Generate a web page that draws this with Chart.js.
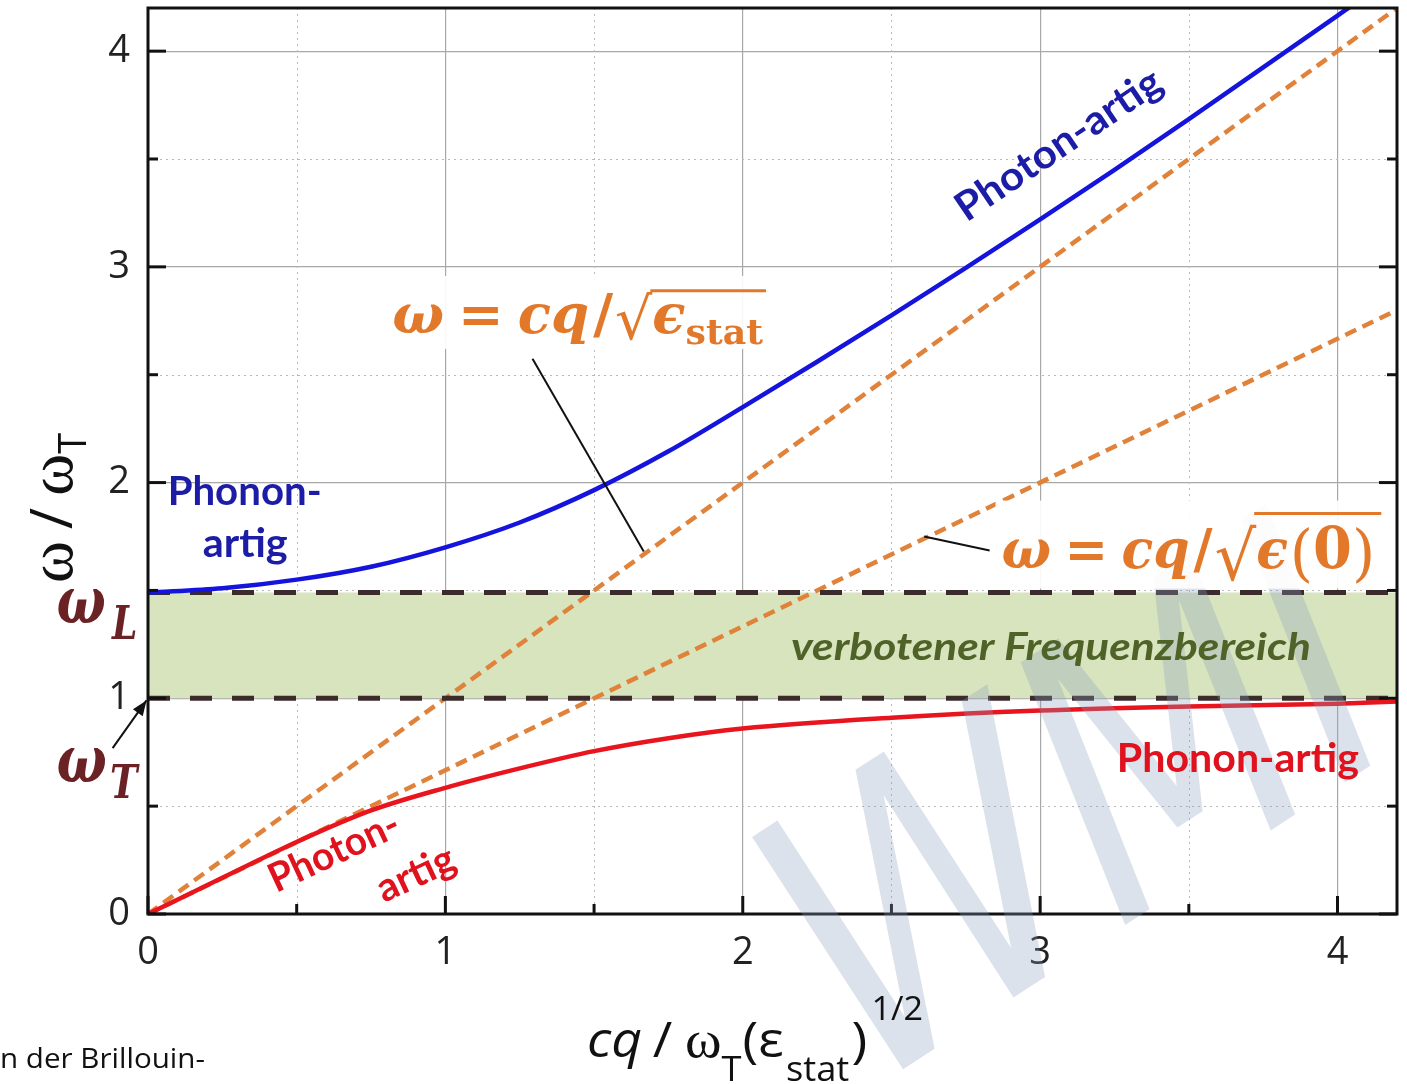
<!DOCTYPE html>
<html>
<head>
<meta charset="utf-8">
<title>Polariton-Dispersion</title>
<script src="https://cdn.jsdelivr.net/npm/chart.js@4.4.1/dist/chart.umd.min.js"></script>
<style>
  html, body { margin: 0; padding: 0; background: #fff; }
  #wrap { width: 1407px; height: 1084px; position: relative; }
</style>
</head>
<body>
<div id="wrap"><canvas id="dispersion"></canvas></div>
<script>
// values (x: cq/omega_T sqrt(eps_stat), y: omega/omega_T)
const qUpper = [0, 0.25, 0.5, 0.75, 1.0, 1.25, 1.5, 1.75, 2.0, 2.25, 2.5, 2.75, 3.0, 3.25, 3.5, 3.75, 4.0, 4.05];
const wUpper = [1.49, 1.51, 1.55, 1.61, 1.70, 1.815, 1.965, 2.145, 2.35, 2.56, 2.775, 2.995, 3.22, 3.45, 3.685, 3.925, 4.165, 4.213];
const qLower = [0, 0.25, 0.5, 0.75, 1.0, 1.25, 1.5, 1.75, 2.0, 2.5, 3.0, 3.5, 4.0, 4.2];
const wLower = [0, 0.168, 0.334, 0.48, 0.585, 0.675, 0.755, 0.815, 0.86, 0.91, 0.943, 0.962, 0.975, 0.985];
const qLines = [0, 4.2];
const wSteep = [0, 4.2];
const wFlat = [0, 2.8];
const wL = [1.49, 1.49];
const wT = [1.0, 1.0];
const majorTicks = [0, 1, 2, 3, 4];
const minorTicks = [0.5, 1.5, 2.5, 3.5];

const pts = (xs, ys) => xs.map((x, i) => ({ x: x, y: ys[i] }));

/* ---------- small text helpers ---------- */
function fitRun(ctx, pieces, x, y, width) {
    let total = 0;
    pieces.forEach(p => {
        ctx.font = p.font;
        p.w = ctx.measureText(p.t).width;
        total += p.w + (p.gap || 0);
    });
    const sx = width ? width / total : 1;
    ctx.save();
    ctx.translate(x, y);
    ctx.scale(sx, 1);
    let cx = 0;
    pieces.forEach(p => {
        ctx.font = p.font;
        ctx.fillText(p.t, cx, p.dy || 0);
        p.x0 = x + cx * sx;
        cx += p.w;
        p.x1 = x + cx * sx;
        cx += p.gap || 0;
    });
    ctx.restore();
    return pieces;
}

function label(ctx, text, font, color, x, y, width, angle) {
    ctx.save();
    ctx.translate(x, y);
    if (angle) ctx.rotate(angle * Math.PI / 180);
    ctx.font = font;
    ctx.fillStyle = color;
    ctx.textAlign = "left";
    ctx.textBaseline = "alphabetic";
    const w = ctx.measureText(text).width;
    if (width) ctx.scale(width / w, 1);
    ctx.fillText(text, 0, 0);
    ctx.restore();
}

function line(ctx, x1, y1, x2, y2, w, color) {
    ctx.save();
    ctx.strokeStyle = color;
    ctx.lineWidth = w;
    ctx.beginPath();
    ctx.moveTo(x1, y1);
    ctx.lineTo(x2, y2);
    ctx.stroke();
    ctx.restore();
}

/* ---------- decorations ---------- */
const decor = {
    id: "decor",
    beforeDatasetsDraw(chart) {
        const { ctx, chartArea: a, scales } = chart;
        // dotted minor grid
        ctx.save();
        ctx.strokeStyle = "#b9b9b9";
        ctx.lineWidth = 1;
        ctx.setLineDash([2, 4]);
        minorTicks.forEach(v => {
            const x = Math.round(scales.x.getPixelForValue(v)) + 0.5;
            const y = Math.round(scales.y.getPixelForValue(v)) + 0.5;
            ctx.beginPath(); ctx.moveTo(x, a.top); ctx.lineTo(x, a.bottom); ctx.stroke();
            ctx.beginPath(); ctx.moveTo(a.left, y); ctx.lineTo(a.right, y); ctx.stroke();
        });
        ctx.restore();
    },
    afterDatasetsDraw(chart) {
        const { ctx, chartArea: a, scales } = chart;
        const X = v => scales.x.getPixelForValue(v);
        const Y = v => scales.y.getPixelForValue(v);

        // frame and inward ticks
        ctx.save();
        ctx.strokeStyle = "#111";
        ctx.lineWidth = 3;
        ctx.strokeRect(a.left, a.top, a.right - a.left, a.bottom - a.top);
        majorTicks.concat(minorTicks).forEach(v => {
            const len = majorTicks.includes(v) ? 18 : 10;
            const x = X(v), y = Y(v);
            ctx.beginPath(); ctx.moveTo(x, a.bottom); ctx.lineTo(x, a.bottom - len); ctx.stroke();
            ctx.beginPath(); ctx.moveTo(a.left, y); ctx.lineTo(a.left + len, y); ctx.stroke();
            ctx.beginPath(); ctx.moveTo(a.right, y); ctx.lineTo(a.right - len, y); ctx.stroke();
        });
        ctx.restore();

        // watermark (slanted, rotated logo letters)
        ctx.save();
        ctx.translate(848, 1105);
        ctx.rotate(-33 * Math.PI / 180);
        ctx.transform(1, 0, -0.2, 1, 0, 0);
        ctx.scale(0.8, 1);
        ctx.font = '380px "DejaVu Sans"';
        ctx.fillStyle = "rgba(140,158,190,0.3)";
        ctx.fillText("WMI", 0, 0);
        ctx.restore();

        // formulas
        const orange = "#e2782a";
        const serifBI = s => 'italic bold ' + s + 'px "DejaVu Serif"';
        const serifB = s => 'bold ' + s + 'px "DejaVu Serif"';

        // formula 1
        let bx = X(0.821), by = Y(2.694), bw = X(2.068) - bx;
        ctx.fillStyle = "rgba(255,255,255,0.92)";
        ctx.fillRect(bx - 6, by - 57, bw + 12, 73);
        ctx.fillStyle = orange;
        let f = fitRun(ctx, [
            { t: "ω", font: serifBI(54), gap: 14 },
            { t: "=", font: serifB(54), gap: 14 },
            { t: "cq", font: serifBI(54), gap: 4 },
            { t: "/", font: serifB(54), gap: 2 },
            { t: "√", font: '58px "DejaVu Serif"', dy: 6 },
            { t: "ϵ", font: serifBI(54) },
            { t: "stat", font: serifB(36), dy: 11 }
        ], bx, by, bw);
        line(ctx, f[4].x1 - 2, by - 42, f[6].x1 + 3, by - 42, 3, orange);

        // formula 2
        bx = X(2.870); by = Y(1.606); bw = X(4.127) - bx;
        ctx.fillStyle = "rgba(255,255,255,0.92)";
        ctx.fillRect(bx - 6, by - 67, bw + 14, 88);
        ctx.fillStyle = orange;
        f = fitRun(ctx, [
            { t: "ω", font: serifBI(54), gap: 14 },
            { t: "=", font: serifB(54), gap: 14 },
            { t: "cq", font: serifBI(54), gap: 4 },
            { t: "/", font: serifB(54), gap: 2 },
            { t: "√", font: '68px "DejaVu Serif"', dy: 12 },
            { t: "ϵ", font: serifBI(54), gap: 2 },
            { t: "(", font: '62px "DejaVu Serif"', dy: 6 },
            { t: "0", font: serifB(58) },
            { t: ")", font: '62px "DejaVu Serif"', dy: 6 }
        ], bx, by, bw);
        line(ctx, f[4].x1 - 2, by - 54, f[8].x1 + 6, by - 54, 3, orange);

        // leader lines
        line(ctx, X(1.293), Y(2.574), X(1.667), Y(1.681), 2, "#111");
        line(ctx, X(2.610), Y(1.750), X(2.830), Y(1.685), 2, "#111");

        // branch labels
        const sansB = s => 'bold ' + s + 'px Lato';
        const blueTxt = "#1c1ca6", redTxt = "#e0121e";
        label(ctx, "Phonon-", sansB(40), blueTxt, X(0.066), Y(1.894), 154);
        label(ctx, "artig", sansB(40), blueTxt, X(0.184), Y(1.653), 85);
        label(ctx, "Photon-artig", sansB(40), blueTxt, X(2.752), Y(3.204), 240, -34);
        label(ctx, "Photon-", sansB(40), redTxt, X(0.431), Y(0.097), 140, -25);
        label(ctx, "artig", sansB(40), redTxt, X(0.794), Y(0.051), 82, -25);
        label(ctx, "Phonon-artig", sansB(40), redTxt, X(3.258), Y(0.657), 242);
        label(ctx, "verbotener Frequenzbereich", "italic bold 38px Lato", "#4f6228", X(2.162), Y(1.176), 520);

        // omega_L / omega_T markers
        const maroon = "#6b2224";
        ctx.fillStyle = maroon;
        fitRun(ctx, [
            { t: "ω", font: serifBI(66), gap: 8 },
            { t: "L", font: serifBI(46), dy: 16 }
        ], X(-0.308), Y(1.347), 81);
        fitRun(ctx, [
            { t: "ω", font: serifBI(66), gap: 4 },
            { t: "T", font: serifBI(46), dy: 16 }
        ], X(-0.308), Y(0.611), 81);
        // arrow to omega_T
        const ax1 = X(-0.119), ay1 = Y(0.769), ax2 = X(-0.005), ay2 = Y(0.99);
        line(ctx, ax1, ay1, ax2, ay2, 2, "#111");
        const ang = Math.atan2(ay2 - ay1, ax2 - ax1);
        ctx.save();
        ctx.fillStyle = "#111";
        ctx.translate(ax2, ay2);
        ctx.rotate(ang);
        ctx.beginPath(); ctx.moveTo(0, 0); ctx.lineTo(-15, -6); ctx.lineTo(-15, 6); ctx.closePath(); ctx.fill();
        ctx.restore();

        // axis titles
        ctx.fillStyle = "#111";
        fitRun(ctx, [
            { t: "cq", font: 'italic 50px "Open Sans"', gap: 10 },
            { t: "/", font: '50px "Open Sans"', gap: 12 },
            { t: "ω", font: '52px "Liberation Serif"' },
            { t: "T", font: '34px "Open Sans"', dy: 24, gap: 1 },
            { t: "(ε", font: '50px "Open Sans"', gap: 2 },
            { t: "stat", font: '34px "Open Sans"', dy: 24, gap: 2 },
            { t: ")", font: '50px "Open Sans"', gap: 4 },
            { t: "1/2", font: '32px "Open Sans"', dy: -37 }
        ], 587, 1057, 336);
        ctx.save();
        ctx.translate(72, 583);
        ctx.rotate(-Math.PI / 2);
        fitRun(ctx, [
            { t: "ω", font: '64px "Liberation Serif"', gap: 12 },
            { t: "/", font: '58px "Open Sans"', gap: 12 },
            { t: "ω", font: '64px "Liberation Serif"' },
            { t: "T", font: '38px "Open Sans"', dy: 14 }
        ], 0, 0, 150);
        ctx.restore();

        // cut caption fragment bottom left
        label(ctx, "n der Brillouin-", '28px "Open Sans"', "#111", 0, 1068, 205);
    }
};

const gridColor = c => (c.tick && majorTicks.includes(c.tick.value) && c.tick.value > 0) ? "#a8a8a8" : "rgba(0,0,0,0)";

new Chart(document.getElementById("dispersion"), {
    type: "line",
    data: {
        datasets: [
            { label: "oberer Zweig", data: pts(qUpper, wUpper), borderColor: "#1414dc", borderWidth: 4.5,
              pointRadius: 0, cubicInterpolationMode: "monotone", fill: false, order: 1 },
            { label: "unterer Zweig", data: pts(qLower, wLower), borderColor: "#e8141e", borderWidth: 4.5,
              pointRadius: 0, cubicInterpolationMode: "monotone", fill: false, order: 2 },
            { label: "omega_L", data: pts(qLines, wL), borderColor: "#3b2b2b", borderWidth: 5,
              borderDash: [22, 20], pointRadius: 0, fill: false, order: 3 },
            { label: "omega_T", data: pts(qLines, wT), borderColor: "#3b2b2b", borderWidth: 5,
              borderDash: [22, 20], pointRadius: 0, fill: false, order: 4 },
            { label: "cq/sqrt(eps_stat)", data: pts(qLines, wSteep), borderColor: "#e0823a", borderWidth: 4.5,
              borderDash: [12, 7], pointRadius: 0, fill: false, order: 5 },
            { label: "cq/sqrt(eps(0))", data: pts(qLines, wFlat), borderColor: "#e0823a", borderWidth: 4.5,
              borderDash: [12, 7], pointRadius: 0, fill: false, order: 6 },
            { label: "Band", data: pts(qLines, wL), borderWidth: 0, borderColor: "rgba(0,0,0,0)",
              backgroundColor: "#d7e4bd", pointRadius: 0, fill: { value: wT[0] }, order: 7 }
        ]
    },
    options: {
        responsive: true,
        maintainAspectRatio: false,
        animation: false,
        devicePixelRatio: 1,
        layout: { padding: { top: 8, right: 10, left: 0, bottom: 0 } },
        plugins: { legend: { display: false }, tooltip: { enabled: false } },
        scales: {
            x: {
                type: "linear",
                min: 0,
                max: 4.2,
                afterFit: s => { s.height = 170; s.paddingLeft = 0; s.paddingRight = 0; },
                border: { display: false },
                grid: { drawTicks: false, lineWidth: 1.2, color: gridColor },
                ticks: {
                    stepSize: 0.5,
                    includeBounds: false,
                    autoSkip: false,
                    maxRotation: 0,
                    padding: 16,
                    color: "#222",
                    font: { family: "Open Sans", size: 38 },
                    callback: v => majorTicks.includes(v) ? String(v) : ""
                }
            },
            y: {
                type: "linear",
                min: 0,
                max: 4.2,
                afterFit: s => { s.width = 148; s.paddingTop = 0; s.paddingBottom = 0; },
                border: { display: false },
                grid: { drawTicks: false, lineWidth: 1.2, color: gridColor },
                ticks: {
                    stepSize: 0.5,
                    includeBounds: false,
                    autoSkip: false,
                    padding: 18,
                    color: "#222",
                    font: { family: "Open Sans", size: 38 },
                    callback: v => majorTicks.includes(v) ? String(v) : ""
                }
            }
        }
    },
    plugins: [decor]
});
</script>
</body>
</html>
